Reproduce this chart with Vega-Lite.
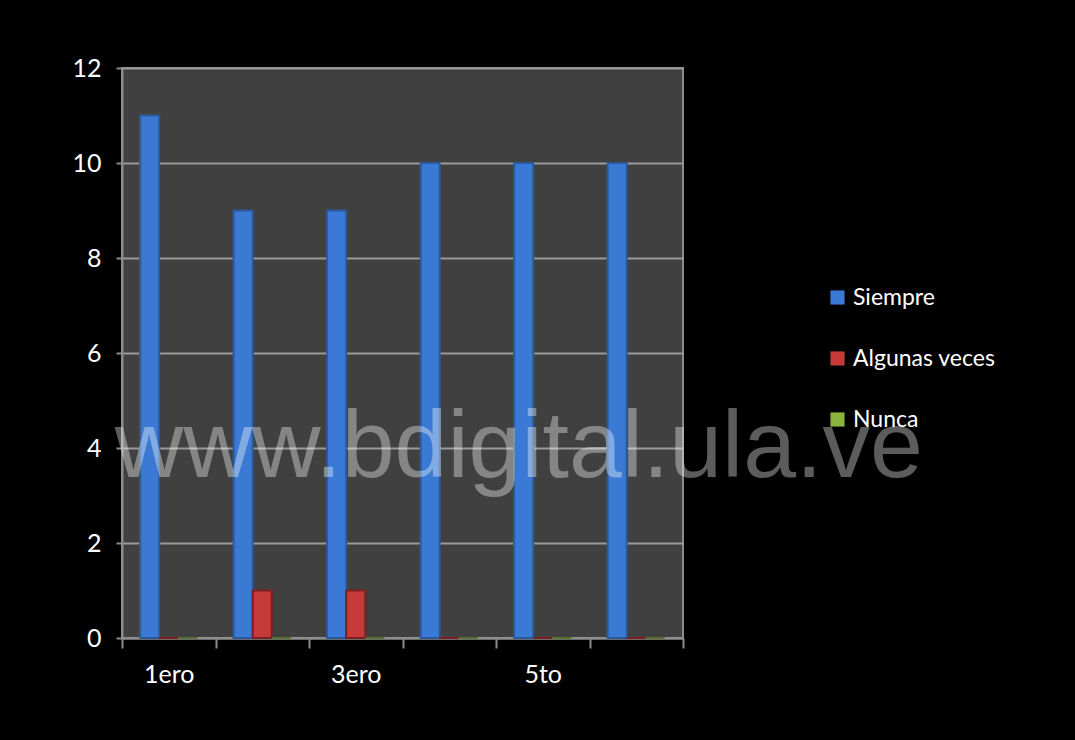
{
  "$schema": "https://vega.github.io/schema/vega-lite/v6.json",
  "width": 561,
  "height": 570,
  "autosize": {"type": "none"},
  "padding": {"left": 122, "top": 68, "right": 392, "bottom": 102},
  "background": "#000000",
  "config": {
    "view": {"fill": "#404040", "stroke": "#8c8c8c", "strokeWidth": 2},
    "font": "Lato"
  },
  "layer": [
    {
      "data": {
        "values": [
          {"grado": "1ero", "serie": "Siempre", "valor": 11},
          {"grado": "1ero", "serie": "Algunas veces", "valor": 0},
          {"grado": "1ero", "serie": "Nunca", "valor": 0},
          {"grado": "2do", "serie": "Siempre", "valor": 9},
          {"grado": "2do", "serie": "Algunas veces", "valor": 1},
          {"grado": "2do", "serie": "Nunca", "valor": 0},
          {"grado": "3ero", "serie": "Siempre", "valor": 9},
          {"grado": "3ero", "serie": "Algunas veces", "valor": 1},
          {"grado": "3ero", "serie": "Nunca", "valor": 0},
          {"grado": "4to", "serie": "Siempre", "valor": 10},
          {"grado": "4to", "serie": "Algunas veces", "valor": 0},
          {"grado": "4to", "serie": "Nunca", "valor": 0},
          {"grado": "5to", "serie": "Siempre", "valor": 10},
          {"grado": "5to", "serie": "Algunas veces", "valor": 0},
          {"grado": "5to", "serie": "Nunca", "valor": 0},
          {"grado": "6to", "serie": "Siempre", "valor": 10},
          {"grado": "6to", "serie": "Algunas veces", "valor": 0},
          {"grado": "6to", "serie": "Nunca", "valor": 0}
        ]
      },
      "mark": {"type": "bar", "strokeWidth": 2},
      "encoding": {
        "x": {
          "field": "grado",
          "type": "nominal",
          "scale": {"domain": ["1ero", "2do", "3ero", "4to", "5to", "6to"], "paddingInner": 0, "paddingOuter": 0},
          "axis": {
            "title": null,
            "tickBand": "extent",
            "labelAngle": 0,
            "labelExpr": "indexof(['1ero','3ero','5to'], datum.value) >= 0 ? datum.label : ''",
            "labelColor": "#ffffff",
            "labelFontSize": 25,
            "labelPadding": 14,
            "tickSize": 10,
            "tickColor": "#8c8c8c",
            "tickWidth": 2,
            "domainColor": "#8c8c8c",
            "domainWidth": 2,
            "grid": false
          }
        },
        "xOffset": {
          "field": "serie",
          "type": "nominal",
          "scale": {"domain": ["Siempre", "Algunas veces", "Nunca"], "paddingInner": 0, "paddingOuter": 0.95}
        },
        "y": {
          "field": "valor",
          "type": "quantitative",
          "scale": {"domain": [0, 12]},
          "axis": {
            "title": null,
            "values": [0, 2, 4, 6, 8, 10, 12],
            "labelColor": "#ffffff",
            "labelFontSize": 25,
            "labelPadding": 15,
            "tickSize": 6,
            "tickColor": "#8c8c8c",
            "tickWidth": 2,
            "domainColor": "#8c8c8c",
            "domainWidth": 2,
            "grid": true,
            "gridColor": "#9a9a9a",
            "gridWidth": 2
          }
        },
        "color": {
          "field": "serie",
          "type": "nominal",
          "scale": {"domain": ["Siempre", "Algunas veces", "Nunca"], "range": ["#3b7ad4", "#c83a3a", "#8cb43c"]},
          "legend": {
            "title": null,
            "orient": "none",
            "legendX": 704,
            "legendY": 218,
            "symbolType": "square",
            "symbolSize": 200,
            "symbolStrokeWidth": 0,
            "labelColor": "#ffffff",
            "labelFontSize": 23,
            "rowPadding": 37,
            "labelOffset": 4
          }
        },
        "stroke": {
          "field": "serie",
          "type": "nominal",
          "scale": {"domain": ["Siempre", "Algunas veces", "Nunca"], "range": ["#2a5a9c", "#7a2020", "#5a7030"]},
          "legend": null
        }
      }
    },
    {
      "data": {"values": [{"texto": "www.bdigital.ula.ve"}]},
      "mark": {
        "type": "text",
        "font": "Liberation Sans",
        "fontSize": 95,
        "fill": "#ffffff",
        "opacity": 0.36,
        "align": "center",
        "baseline": "alphabetic",
        "dx": -24,
        "clip": false
      },
      "encoding": {
        "text": {"field": "texto"},
        "x": {"datum": "5to"},
        "y": {"datum": 3.4}
      }
    }
  ]
}
